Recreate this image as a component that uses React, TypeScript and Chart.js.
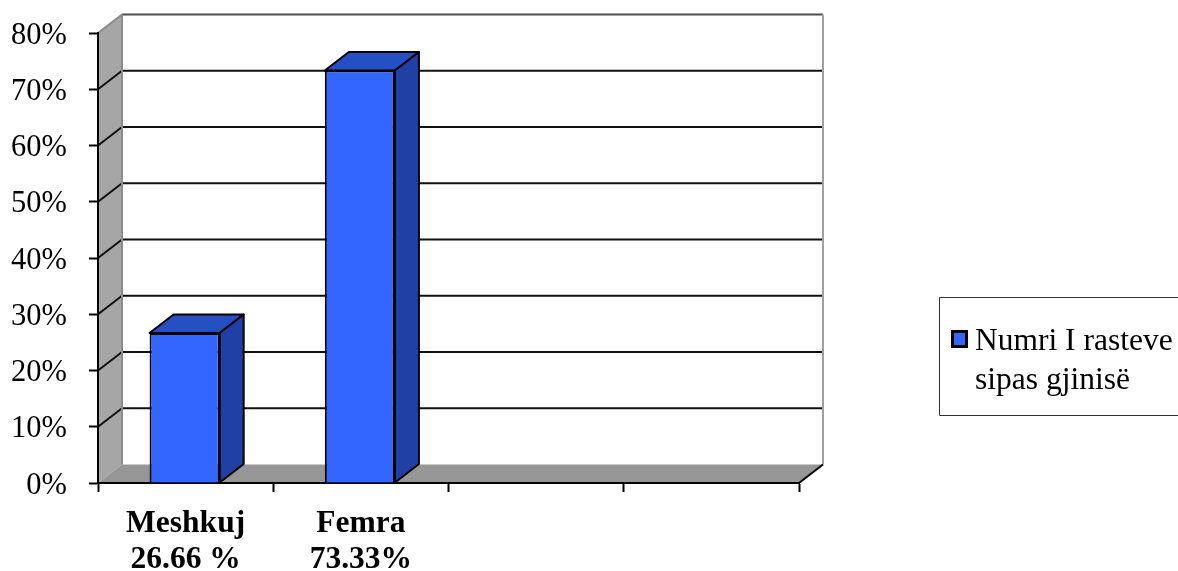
import React, { useEffect, useRef } from "react";
import { Chart, registerables } from "chart.js";

Chart.register(...registerables);

const categories: (string | string[])[] = [["Meshkuj", "26.66 %"], ["Femra", "73.33%"], "", ""];
const shares: (number | null)[] = [26.66, 73.33, null, null];
const seriesLabel = ["Numri I rasteve", "sipas gjinisë"];

const SERIF = "'Liberation Serif', 'Times New Roman', serif";
const DEPTH_X = 24;
const DEPTH_Y = -18.5;
const BAR_SHIFT = -1;
const BAR_FRONT = "#3366ff";
const BAR_TOP = "#2450c4";
const BAR_SIDE = "#2040a6";

function polygon(ctx: CanvasRenderingContext2D, pts: number[][], fill: string | null, stroke?: string, lw = 2) {
  ctx.beginPath();
  pts.forEach(([x, y], i) => (i ? ctx.lineTo(x, y) : ctx.moveTo(x, y)));
  ctx.closePath();
  if (fill) {
    ctx.fillStyle = fill;
    ctx.fill();
  }
  if (stroke) {
    ctx.strokeStyle = stroke;
    ctx.lineWidth = lw;
    ctx.stroke();
  }
}

function segment(ctx: CanvasRenderingContext2D, x1: number, y1: number, x2: number, y2: number, color: string, lw = 2) {
  ctx.beginPath();
  ctx.moveTo(x1, y1);
  ctx.lineTo(x2, y2);
  ctx.strokeStyle = color;
  ctx.lineWidth = lw;
  ctx.stroke();
}

// Back wall, side wall and floor of the 3D box, projected from the axis scales.
const boxWalls = {
  id: "boxWalls",
  beforeDraw(chart: any) {
    const { ctx, chartArea: a, scales } = chart;
    const dx = DEPTH_X;
    const dy = DEPTH_Y;
    ctx.save();
    polygon(ctx, [[a.left + dx, a.top + dy], [a.right + dx, a.top + dy], [a.right + dx, a.bottom + dy], [a.left + dx, a.bottom + dy]], "#ffffff");
    polygon(ctx, [[a.left, a.top], [a.left + dx, a.top + dy], [a.left + dx, a.bottom + dy], [a.left, a.bottom]], "#a6a6a6");
    polygon(ctx, [[a.left, a.bottom], [a.left + dx, a.bottom + dy], [a.right + dx, a.bottom + dy], [a.right, a.bottom]], "#969696");

    for (const tick of scales.y.ticks) {
      const y = scales.y.getPixelForValue(tick.value);
      if (tick.value > 0) {
        segment(ctx, a.left, y, a.left + dx, y + dy, tick.value === 80 ? "#8a8a8a" : "#111111");
        segment(ctx, a.left + dx, y + dy, a.right + dx, y + dy, tick.value === 80 ? "#4d4d4d" : "#111111");
      }
    }
    segment(ctx, a.left + dx, a.top + dy, a.left + dx, a.bottom + dy, "#8c8c8c");
    segment(ctx, a.right + dx, a.top + dy, a.right + dx, a.bottom + dy, "#a0a0a0");
    segment(ctx, a.right, a.bottom, a.right + dx, a.bottom + dy, "#000000");
    ctx.restore();
  },
  beforeDatasetsDraw(chart: any) {
    chart.ctx.save();
    chart.ctx.translate(BAR_SHIFT, 0);
  },
  // Top and side faces of every bar, taken from the bar elements.
  afterDatasetsDraw(chart: any) {
    const { ctx } = chart;
    const dx = DEPTH_X;
    const dy = DEPTH_Y;
    ctx.save();
    ctx.lineJoin = "round";
    chart.getDatasetMeta(0).data.forEach((bar: any, i: number) => {
      if (chart.data.datasets[0].data[i] == null) return;
      const l = bar.x - bar.width / 2;
      const r = bar.x + bar.width / 2;
      polygon(ctx, [[l, bar.y], [l + dx, bar.y + dy], [r + dx, bar.y + dy], [r, bar.y]], BAR_TOP, "#000000");
      polygon(ctx, [[r, bar.y], [r + dx, bar.y + dy], [r + dx, bar.base + dy], [r, bar.base]], BAR_SIDE, "#000000");
    });
    ctx.restore();
    ctx.restore();
  },
  // Framed legend on the right, running off the canvas edge.
  afterDraw(chart: any) {
    const { ctx, width } = chart;
    const lines: string[] = chart.data.datasets[0].label.split("\n");
    ctx.save();
    ctx.strokeStyle = "#333333";
    ctx.lineWidth = 1;
    ctx.fillStyle = "#ffffff";
    ctx.fillRect(939.5, 297.5, width - 939.5, 118);
    ctx.beginPath();
    ctx.moveTo(width, 297.5);
    ctx.lineTo(939.5, 297.5);
    ctx.lineTo(939.5, 415.5);
    ctx.lineTo(width, 415.5);
    ctx.stroke();
    ctx.fillStyle = BAR_FRONT;
    ctx.fillRect(952.5, 331.5, 14, 15);
    ctx.strokeStyle = "#000000";
    ctx.lineWidth = 3;
    ctx.strokeRect(952.5, 331.5, 14, 15);
    ctx.fillStyle = "#000000";
    ctx.font = `31.5px ${SERIF}`;
    ctx.textBaseline = "alphabetic";
    ctx.textAlign = "left";
    lines.forEach((line, i) => ctx.fillText(line, 975, 350 + i * 39));
    ctx.restore();
  },
};

export default function App() {
  const ref = useRef<HTMLCanvasElement>(null);

  useEffect(() => {
    const chart = new Chart(ref.current!, {
      type: "bar",
      data: {
        labels: categories,
        datasets: [
          {
            label: seriesLabel.join("\n"),
            data: shares,
            backgroundColor: BAR_FRONT,
            borderColor: "#000000",
            borderWidth: 2,
            barPercentage: 0.4,
            categoryPercentage: 1,
          },
        ],
      },
      options: {
        responsive: false,
        animation: false,
        layout: { padding: { top: 33, right: 379, left: 0, bottom: 0 } },
        plugins: { legend: { display: false }, tooltip: { enabled: false } },
        scales: {
          x: {
            afterFit: (s: any) => {
              s.height = 88;
              s.paddingLeft = 0;
              s.paddingRight = 0;
            },
            grid: { drawOnChartArea: false, color: "#000000", tickLength: 9, tickWidth: 2 },
            border: { color: "#000000", width: 2 },
            ticks: {
              autoSkip: false,
              maxRotation: 0,
              color: "#000000",
              padding: 14,
              font: { family: SERIF, size: 31.5, weight: "bold", lineHeight: 1.14 },
            },
          },
          y: {
            min: 0,
            max: 80,
            afterFit: (s: any) => {
              s.width = 98;
              s.paddingTop = 0;
              s.paddingBottom = 0;
            },
            grid: { drawOnChartArea: false, color: "#000000", tickLength: 9, tickWidth: 2 },
            border: { color: "#000000", width: 2 },
            ticks: {
              stepSize: 10,
              color: "#000000",
              padding: 22,
              labelOffset: 2.5,
              font: { family: SERIF, size: 30.5 },
              callback: (v: any) => `${v}%`,
            },
          },
        },
      },
      plugins: [boxWalls],
    } as any);
    return () => chart.destroy();
  }, []);

  return (
    <canvas
      ref={ref}
      width={1178}
      height={571}
      style={{ position: "absolute", left: 0, top: 0, display: "block" }}
    />
  );
}
